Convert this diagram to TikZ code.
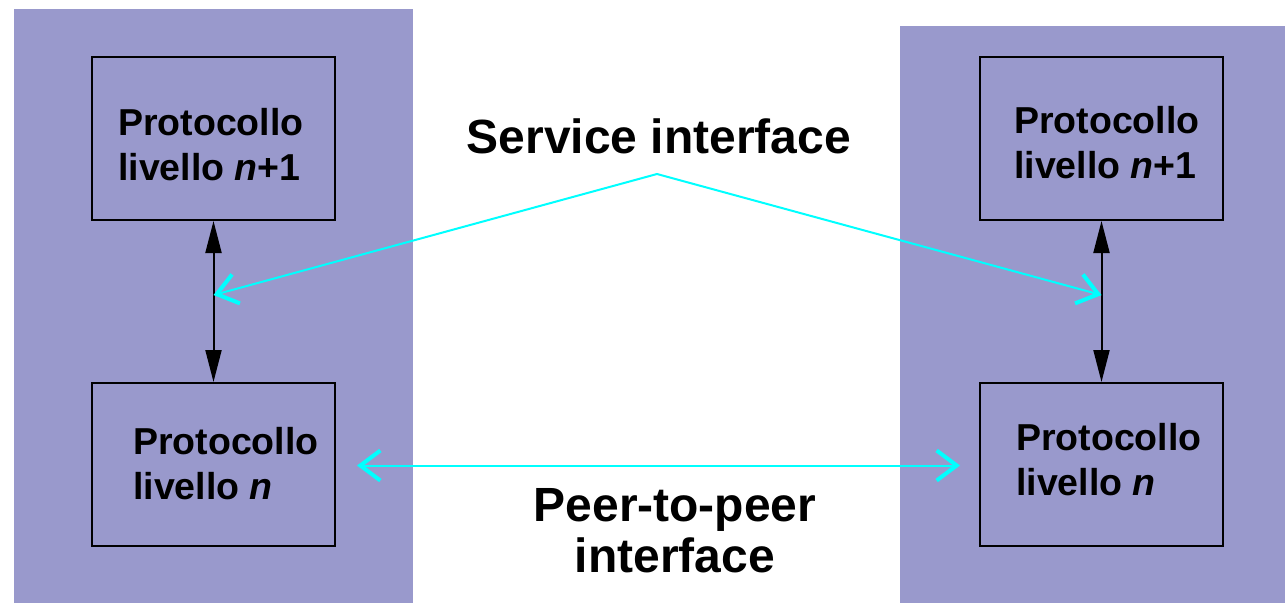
\documentclass[tikz,border=0pt]{standalone}
\usepackage{fontspec}
\setmainfont{Liberation Sans}
\usetikzlibrary{arrows.meta,calc}
\definecolor{panel}{HTML}{9999CC}
\definecolor{wire}{HTML}{00FFFF}
\tikzset{
  panelbox/.style={fill=panel,draw=none,inner sep=0pt,anchor=north west},
  protobox/.style={draw=black,line width=2pt,fill=none,inner sep=0pt,
    minimum width=243pt,minimum height=163pt,anchor=north west},
  protolabel/.style={anchor=base west,inner sep=0pt,align=left,
    font=\fontsize{37.5}{45}\selectfont\bfseries},
  biglabel/.style={inner sep=0pt,align=center,
    font=\fontsize{48}{51}\selectfont\bfseries},
  stackarrow/.style={draw=black,line width=2pt,
    {Triangle[length=32pt,width=16pt]}-{Triangle[length=32pt,width=16pt]}},
  servicewire/.style={draw=wire,line width=2pt,
    -{Straight Barb[length=20pt,width=30pt,line width=4pt]}},
  peerwire/.style={draw=wire,line width=2pt,
    {Straight Barb[length=20pt,width=30pt,line width=4pt]}-{Straight Barb[length=20pt,width=30pt,line width=4pt]}},
}
\begin{document}
\begin{tikzpicture}[x=1pt,y=-1pt]
\useasboundingbox (0,0) rectangle (1285,603);
% host panels
\node[panelbox,minimum width=399pt,minimum height=594pt] (hostL) at (14,9) {};
\node[panelbox,minimum width=385pt,minimum height=577pt] (hostR) at (900,26) {};
% protocol boxes
\node[protobox] (upL) at (91,56) {};
\node[protobox] (loL) at (91,382) {};
\node[protobox] (upR) at (979,56) {};
\node[protobox] (loR) at (979,382) {};
% box texts (anchored on the baseline of their last line)
\node[protolabel] (tUpL) at (118,180) {Protocollo\\livello \textit{n}+1};
\node[protolabel] (tLoL) at (133,499) {Protocollo\\livello \textit{n}};
\node[protolabel] (tUpR) at (1014,178) {Protocollo\\livello \textit{n}+1};
\node[protolabel] (tLoR) at (1016,495) {Protocollo\\livello \textit{n}};
% vertical service arrows
\draw[stackarrow] (upL.south) -- (loL.north);
\draw[stackarrow] (upR.south) -- (loR.north);
% service interface label and wires
\node[biglabel,anchor=base] (svc) at (659,153) {Service interface};
\coordinate (apex) at (657,174);
\coordinate (sapL) at ($(upL.south)!0.46!(loL.north)$);
\coordinate (sapR) at ($(upR.south)!0.46!(loR.north)$);
\draw[servicewire] (apex) -- (sapL);
\draw[servicewire] (apex) -- (sapR);
% peer-to-peer wire and label
\coordinate (peerL) at ($(loL.east)+(21,1)$);
\coordinate (peerR) at ($(loR.west)+(-19,1)$);
\draw[peerwire] (peerL) -- (peerR);
\node[biglabel,anchor=base] (peer) at (675,572) {Peer-to-peer\\interface};
\end{tikzpicture}
\end{document}
